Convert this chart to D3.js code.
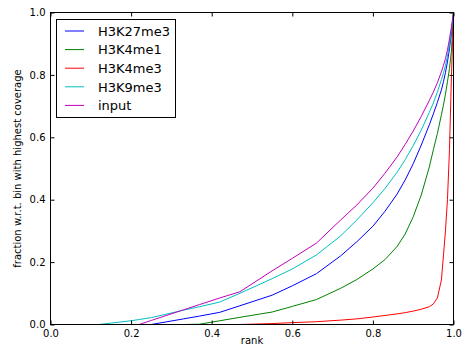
<!DOCTYPE html>
<html>
<head>
<meta charset="utf-8">
<script src="https://cdn.jsdelivr.net/npm/d3@7"></script>
<style>
  body { margin: 0; background: #fff; }
  text { font-family: "DejaVu Sans", sans-serif; fill: #000; }
</style>
</head>
<body>
<div id="container"></div>
<script>
// shared rank positions (x) and the fraction for each track (y)
let ranks    = [0, 0.12, 0.2, 0.22, 0.25, 0.33, 0.37, 0.42, 0.47, 0.55, 0.6, 0.66, 0.72, 0.76, 0.8, 0.83, 0.86, 0.88, 0.9, 0.92, 0.94, 0.95, 0.96, 0.97, 0.975, 0.98, 0.985, 0.99, 0.995, 1.0];
let h3k27me3 = [0, 0, 0, 0, 0, 0.018, 0.027, 0.039, 0.06, 0.094, 0.124, 0.163, 0.22, 0.265, 0.315, 0.363, 0.418, 0.463, 0.515, 0.575, 0.64, 0.675, 0.712, 0.752, 0.778, 0.807, 0.842, 0.884, 0.935, 1.0];
let h3k4me1  = [0, 0, 0, 0, 0, 0, 0.001, 0.012, 0.023, 0.04, 0.058, 0.08, 0.116, 0.144, 0.178, 0.208, 0.25, 0.29, 0.345, 0.415, 0.505, 0.56, 0.612, 0.672, 0.703, 0.738, 0.778, 0.82, 0.88, 1.0];
let h3k4me3  = [0, 0, 0, 0, 0, 0, 0, 0, 0, 0.003, 0.006, 0.009, 0.014, 0.018, 0.024, 0.029, 0.034, 0.038, 0.043, 0.049, 0.057, 0.066, 0.085, 0.143, 0.22, 0.3, 0.4, 0.56, 0.8, 1.0];
let h3k9me3  = [0, 0, 0.012, 0.016, 0.022, 0.046, 0.057, 0.072, 0.1, 0.147, 0.178, 0.223, 0.284, 0.335, 0.39, 0.436, 0.488, 0.528, 0.573, 0.623, 0.68, 0.71, 0.745, 0.785, 0.805, 0.83, 0.86, 0.9, 0.945, 1.0];
let input    = [0, 0, 0, 0, 0.013, 0.047, 0.064, 0.085, 0.105, 0.172, 0.212, 0.261, 0.335, 0.383, 0.437, 0.485, 0.537, 0.577, 0.62, 0.667, 0.718, 0.745, 0.775, 0.81, 0.83, 0.852, 0.88, 0.915, 0.955, 1.0];

let seriesNames = ['H3K27me3', 'H3K4me1', 'H3K4me3', 'H3K9me3', 'input'];
let seriesValues = [h3k27me3, h3k4me1, h3k4me3, h3k9me3, input];
let seriesColors = ['#0000ff', '#008000', '#ff0000', '#00bfbf', '#bf00bf'];
let xTicks = [0, 0.2, 0.4, 0.6, 0.8, 1.0];
let yTicks = [0, 0.2, 0.4, 0.6, 0.8, 1.0];

let width = 462;
let height = 358;
let plotLeft = 50.5, plotRight = 453.5, plotTop = 12.5, plotBottom = 324.5;

let svg = d3.select('#container').append('svg')
    .attr('width', width).attr('height', height);

let xScale = d3.scaleLinear().domain([0, 1]).range([plotLeft, plotRight]);
let yScale = d3.scaleLinear().domain([0, 1]).range([plotBottom, plotTop]);

svg.append('clipPath').attr('id', 'plotClip')
    .append('rect')
    .attr('x', plotLeft).attr('y', plotTop - 1)
    .attr('width', plotRight - plotLeft).attr('height', plotBottom - plotTop + 1);

let line = d3.line()
    .x((d, i) => xScale(ranks[i]))
    .y(d => yScale(d));

let lines = svg.append('g').attr('clip-path', 'url(#plotClip)');
seriesValues.forEach((vals, i) => {
    lines.append('path')
        .datum(vals)
        .attr('fill', 'none')
        .attr('stroke', seriesColors[i])
        .attr('stroke-width', 1)
        .attr('stroke-linejoin', 'round')
        .attr('d', line);
});

// axes: ticks point inward on all four sides
let tickLen = 4;
let fmt = d3.format('.1f');

svg.append('g').attr('transform', 'translate(0,' + plotBottom + ')')
    .call(d3.axisBottom(xScale).tickValues(xTicks).tickSizeInner(-tickLen).tickSizeOuter(0).tickPadding(5).tickFormat(fmt))
    .call(g => g.select('.domain').remove())
    .call(g => g.selectAll('text').attr('font-size', 10).attr('font-family', 'DejaVu Sans'));

svg.append('g').attr('transform', 'translate(0,' + plotTop + ')')
    .call(d3.axisTop(xScale).tickValues(xTicks).tickSizeInner(-tickLen).tickSizeOuter(0).tickFormat(''))
    .call(g => g.select('.domain').remove());

svg.append('g').attr('transform', 'translate(' + plotLeft + ',0)')
    .call(d3.axisLeft(yScale).tickValues(yTicks).tickSizeInner(-tickLen).tickSizeOuter(0).tickPadding(5).tickFormat(fmt))
    .call(g => g.select('.domain').remove())
    .call(g => g.selectAll('text').attr('font-size', 10).attr('font-family', 'DejaVu Sans'));

svg.append('g').attr('transform', 'translate(' + plotRight + ',0)')
    .call(d3.axisRight(yScale).tickValues(yTicks).tickSizeInner(-tickLen).tickSizeOuter(0).tickFormat(''))
    .call(g => g.select('.domain').remove());

svg.selectAll('.tick line').attr('stroke', '#000');

svg.append('rect')
    .attr('x', plotLeft).attr('y', plotTop)
    .attr('width', plotRight - plotLeft).attr('height', plotBottom - plotTop)
    .attr('fill', 'none').attr('stroke', '#000').attr('stroke-width', 1);

svg.append('text').attr('x', (plotLeft + plotRight) / 2).attr('y', 344)
    .attr('text-anchor', 'middle').attr('font-size', 10).text('rank');

svg.append('text')
    .attr('transform', 'translate(21,' + (plotTop + plotBottom) / 2 + ') rotate(-90)')
    .attr('text-anchor', 'middle').attr('font-size', 10)
    .text('fraction w.r.t. bin with highest coverage');

// legend
let legend = svg.append('g');
legend.append('rect')
    .attr('x', 56.5).attr('y', 19.5).attr('width', 119).attr('height', 98)
    .attr('fill', '#fff').attr('stroke', '#000').attr('stroke-width', 1);
seriesNames.forEach((name, i) => {
    let y = 31 + i * 18.6;
    legend.append('line')
        .attr('x1', 65).attr('x2', 84).attr('y1', y).attr('y2', y)
        .attr('stroke', seriesColors[i]).attr('stroke-width', 1);
    legend.append('text')
        .attr('x', 98).attr('y', y + 4.7)
        .attr('font-size', 13).text(name);
});
</script>
</body>
</html>
